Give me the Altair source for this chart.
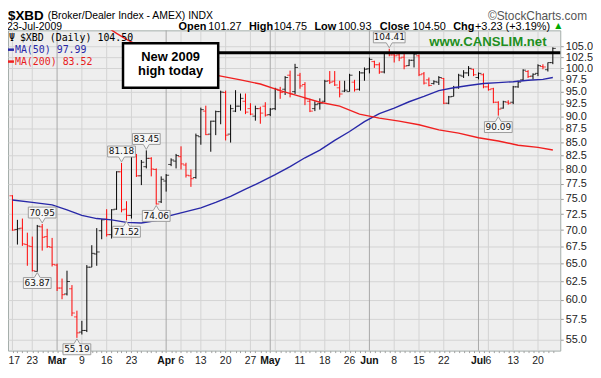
import altair as alt
import pandas as pd

# ---------------- data ----------------
day = list(range(110))  # trading days 17-Feb-2009 .. 23-Jul-2009
open_ = [75.5, 70.1, 70.3, 67.8, 67.5, 63.9, 70.5, 69.0, 67.4, 64.8,
         61.6, 60.8, 61.5, 57.8, 55.9, 56.1, 64.5, 66.4, 69.9, 71.7,
         69.3, 73.3, 79.6, 73.3, 72.3, 82.3, 78.9, 80.5, 82.0, 80.0,
         74.5, 78.0, 80.9, 81.5, 82.3, 80.8, 78.9, 78.6, 86.0, 91.0,
         86.5, 89.0, 90.9, 94.8, 86.5, 91.0, 92.0, 93.0, 91.5, 90.0,
         91.5, 92.0, 90.3, 91.5, 95.3, 95.5, 98.5, 95.0, 98.5, 96.5,
         93.0, 91.5, 92.5, 93.0, 97.3, 97.2, 95.8, 95.1, 95.0, 97.0,
         95.5, 99.0, 99.9, 101.5, 100.8, 99.2, 103.5, 103.0, 103.0, 102.5,
         100.6, 101.8, 102.8, 98.8, 97.5, 96.7, 97.0, 97.8, 92.6, 94.0,
         95.8, 98.3, 99.0, 99.8, 98.0, 98.6, 96.0, 95.6, 92.8, 91.6,
         92.8, 92.8, 96.0, 97.5, 99.3, 98.3, 98.9, 100.4, 99.7, 101.27]
high = [75.6, 71.6, 71.8, 69.6, 69.0, 70.8, 70.95, 70.2, 68.8, 65.0,
        62.9, 64.0, 62.0, 58.6, 57.3, 64.8, 67.7, 70.3, 71.7, 73.3,
        73.3, 79.7, 81.18, 74.6, 82.6, 82.8, 81.7, 83.45, 82.2, 80.2,
        78.8, 79.2, 82.0, 82.8, 84.2, 81.2, 80.0, 86.6, 91.7, 92.1,
        89.1, 91.1, 95.2, 95.2, 92.3, 95.3, 94.6, 94.6, 92.6, 92.1,
        91.9, 92.8, 91.6, 95.8, 96.0, 98.3, 99.5, 101.0, 99.0, 97.0,
        93.5, 93.0, 93.6, 97.5, 99.4, 99.4, 97.3, 97.3, 98.8, 97.5,
        99.4, 100.2, 102.4, 101.7, 101.3, 103.5, 104.41, 103.5, 103.5, 103.5,
        102.0, 103.5, 103.1, 99.2, 98.0, 97.4, 98.3, 97.9, 94.1, 96.2,
        98.8, 99.6, 100.5, 99.9, 99.1, 98.9, 96.6, 95.8, 93.0, 93.1,
        93.2, 96.2, 97.3, 99.8, 99.6, 98.9, 100.9, 100.9, 101.3, 104.75]
low = [69.9, 67.8, 67.6, 64.7, 63.9, 63.87, 66.9, 67.3, 64.6, 61.2,
       60.1, 60.6, 57.9, 55.19, 55.6, 55.9, 64.5, 64.7, 68.6, 69.0,
       68.7, 73.2, 72.8, 71.52, 71.8, 78.7, 77.3, 80.2, 78.8, 74.06,
       74.3, 76.2, 80.6, 80.2, 80.0, 78.6, 77.0, 78.4, 84.5, 86.3,
       83.2, 86.3, 88.4, 85.3, 84.9, 90.8, 91.1, 90.4, 90.2, 89.1,
       88.5, 89.9, 90.0, 91.2, 93.5, 94.3, 93.8, 94.5, 95.6, 92.2,
       90.8, 91.0, 91.3, 92.8, 96.6, 96.2, 93.8, 94.9, 95.0, 95.0,
       95.2, 97.3, 98.9, 100.1, 98.8, 98.9, 102.7, 101.3, 101.6, 99.8,
       100.5, 100.2, 98.3, 96.5, 96.1, 96.5, 96.4, 92.4, 92.4, 94.0,
       95.6, 97.9, 98.3, 98.3, 97.6, 95.7, 95.2, 92.6, 90.09, 91.5,
       92.3, 92.4, 95.8, 97.3, 97.9, 97.6, 98.3, 99.8, 99.3, 100.93]
close = [70.0, 70.2, 67.9, 67.6, 64.0, 70.6, 68.9, 67.5, 64.9, 61.6,
         60.7, 62.5, 58.3, 55.8, 56.1, 64.5, 66.5, 66.7, 71.6, 69.3,
         73.2, 79.6, 73.2, 72.3, 82.3, 78.9, 81.3, 82.0, 80.1, 74.15,
         78.3, 79.0, 81.7, 82.5, 81.0, 79.0, 78.4, 86.2, 91.3, 86.4,
         89.0, 90.9, 94.9, 86.3, 91.5, 92.0, 93.6, 90.8, 90.4, 91.5,
         90.6, 90.2, 91.4, 95.5, 94.8, 98.0, 94.5, 100.2, 96.2, 93.5,
         91.0, 92.3, 92.6, 97.2, 97.0, 96.4, 94.5, 95.3, 98.5, 95.4,
         99.0, 99.8, 102.0, 100.8, 99.2, 103.4, 103.0, 102.8, 102.3, 100.5,
         101.8, 103.2, 98.6, 96.8, 96.3, 97.1, 98.0, 92.6, 93.9, 95.9,
         98.5, 99.0, 100.0, 98.6, 98.9, 96.0, 95.4, 92.8, 91.4, 92.9,
         92.6, 96.0, 97.0, 99.6, 98.2, 98.7, 100.6, 100.3, 101.27, 104.50]
prev_close0 = 75.9

ma50_day = [0, 4, 8, 11, 14, 17, 20, 23, 26, 29, 32, 35, 38, 41, 44, 47, 50, 53, 56, 59,
            62, 65, 68, 71, 74, 77, 80, 83, 86, 89, 92, 95, 98, 101, 104, 107, 109]
ma50_val = [74.8, 74.4, 74.0, 73.2, 72.3, 71.8, 71.6, 71.2, 71.1, 71.5, 72.3, 72.9, 73.5, 74.4,
            75.4, 76.6, 77.8, 79.1, 80.5, 82.1, 83.5, 85.3, 87.0, 88.9, 90.5, 91.6, 92.9, 94.0,
            95.2, 95.8, 96.3, 96.7, 96.9, 97.1, 97.4, 97.6, 97.99]
ma200_day = [19, 21, 23, 27, 32, 37, 41, 46, 50, 54, 58, 62, 66, 70, 74, 78, 82, 86, 90, 94,
             98, 102, 106, 109]
ma200_val = [109.6, 108.0, 106.6, 104.2, 101.8, 100.0, 98.5, 97.5, 96.6, 95.2, 94.0, 92.8,
             92.0, 90.4, 89.6, 89.0, 88.3, 87.3, 86.7, 85.8, 85.2, 84.4, 84.0, 83.52]

tick_day = [0, 4, 9, 14, 19, 24, 31, 34, 38, 43, 48, 52, 58, 63, 68, 72, 77, 82, 87, 94, 96, 101, 106]
tick_text = ["17", "23", "Mar", "9", "16", "23", "Apr", "6", "13", "20", "27", "May",
             "11", "18", "26", "Jun", "8", "15", "22", "Jul", "6", "13", "20"]
month_days = [9, 31, 52, 72, 94]
extra_grid_days = [53]
y_ticks = [55.0, 57.5, 60.0, 62.5, 65.0, 67.5, 70.0, 72.5, 75.0, 77.5, 80.0,
           82.5, 85.0, 87.5, 90.0, 92.5, 95.0, 97.5, 100.0, 102.5, 105.0]

note_day = [6, 5, 13, 23, 22, 27, 29, 76, 98]
note_val = [70.95, 63.87, 55.19, 71.52, 81.18, 83.45, 74.06, 104.41, 90.09]
note_pos = ["above", "below", "below", "below", "above", "above", "below", "above", "below"]

prior_high = 103.5

# ---------------- layout ----------------
W, H = 557, 323
xs = alt.Scale(domain=[-0.9, 110.5], nice=False, zero=False)
ys = alt.Scale(type="log", domain=[53.66, 108.74], nice=False, zero=False)

X_AXIS = alt.Axis(values=day, labels=False, ticks=True, tickSize=2, tickColor="#a0a0a0",
                  domain=False, grid=False, title=None)
Y_AXIS = alt.Axis(orient="right", values=y_ticks, format=".1f", grid=True,
                  gridColor="#d3d3d3", gridWidth=1, domain=False, ticks=True,
                  tickSize=3, tickColor="#9a9a9a", labelFont="Liberation Sans",
                  labelFontSize=11, labelColor="#222222", labelPadding=2, title=None)


def X(field="day"):
    return alt.X(f"{field}:Q", scale=xs, axis=X_AXIS)


def Y(field):
    return alt.Y(f"{field}:Q", scale=ys, axis=Y_AXIS)


prev = [prev_close0] + close[:-1]
bars = pd.DataFrame({
    "day": day, "open": open_, "high": high, "low": low, "close": close,
    "col": ["#000000" if c >= p else "#ff0000" for c, p in zip(close, prev)],
})
one = pd.DataFrame({"k": [0]})

grid_all = sorted(set(tick_day + extra_grid_days))
grid_df = pd.DataFrame({"day": grid_all,
                        "kind": ["month" if d in month_days else "week" for d in grid_all]})

week_grid = alt.Chart(grid_df).transform_filter("datum.kind == 'week'").mark_rule(
    color="#d3d3d3", strokeWidth=1).encode(x=X())
month_grid = alt.Chart(grid_df).transform_filter("datum.kind == 'month'").mark_rule(
    color="#a8a8a8", strokeWidth=1).encode(x=X())

hl = alt.Chart(bars).mark_rule(strokeWidth=1).encode(
    x=X(), y=Y("low"), y2="high:Q", color=alt.Color("col:N", scale=None))
op = alt.Chart(bars).mark_tick(orient="horizontal", size=3, thickness=1, xOffset=-1.5).encode(
    x=X(), y=Y("open"), color=alt.Color("col:N", scale=None))
cl = alt.Chart(bars).mark_tick(orient="horizontal", size=3, thickness=1, xOffset=1.5).encode(
    x=X(), y=Y("close"), color=alt.Color("col:N", scale=None))

ma50 = alt.Chart(pd.DataFrame({"day": ma50_day, "v": ma50_val})).mark_line(
    color="#2828a8", strokeWidth=1.4).encode(x=X(), y=Y("v"))
ma200 = alt.Chart(pd.DataFrame({"day": ma200_day, "v": ma200_val})).mark_line(
    color="#f02020", strokeWidth=1.4, clip=True).encode(x=X(), y=Y("v"))

hi_line = alt.Chart(pd.DataFrame({"lvl": [prior_high]})).mark_rule(
    color="black", strokeWidth=3).encode(x=alt.value(212), x2=alt.value(W), y=Y("lvl"))

callout = alt.Chart(one).mark_rect(fill="white", stroke="black", strokeWidth=2.5).encode(
    x=alt.value(116), x2=alt.value(212), y=alt.value(13), y2=alt.value(58))


def txt(s, x, y, size=11, weight="normal", color="#000000", font="Liberation Sans",
        align="left"):
    return alt.Chart(one).mark_text(text=s, fontSize=size, fontWeight=weight, color=color,
                                    font=font, align=align, baseline="middle").encode(
        x=alt.value(x), y=alt.value(y))


notes = pd.DataFrame({"day": note_day, "val": note_val, "pos": note_pos})
notes["path"] = [
    ("M0,-1L-3,-6H-16V-17H16V-6H3Z" if v > 100 else "M0,-1L-3,-6H-14V-17H14V-6H3Z")
    if p == "above" else "M0,1L3,6H14V17H-14V6H-3Z"
    for v, p in zip(note_val, note_pos)]
note_box = alt.Chart(notes).mark_point(
    filled=True, size=4, fill="#f6f6f6", stroke="#9c9c9c", strokeWidth=1, opacity=1).encode(
    x=X(), y=Y("val"), shape=alt.Shape("path:N", scale=None))
note_up = alt.Chart(notes).transform_filter("datum.pos == 'above'").mark_text(
    font="DejaVu Sans", fontSize=9, dy=-11.5, baseline="middle", color="#111111").encode(
    x=X(), y=Y("val"), text=alt.Text("val:Q", format=".2f"))
note_dn = alt.Chart(notes).transform_filter("datum.pos == 'below'").mark_text(
    font="DejaVu Sans", fontSize=9, dy=11.5, baseline="middle", color="#111111").encode(
    x=X(), y=Y("val"), text=alt.Text("val:Q", format=".2f"))

XL_Y = H + 10
xl = pd.DataFrame({"day": tick_day, "t": tick_text,
                   "b": [t in ("Mar", "Apr", "May", "Jun", "Jul") for t in tick_text],
                   "first": [i == 0 for i in range(len(tick_day))]})
xlab = alt.Chart(xl).transform_filter("!datum.b && !datum.first").mark_text(
    font="Liberation Sans", fontSize=10.5, color="#222222", baseline="middle").encode(
    x=X(), y=alt.value(XL_Y), text="t:N")
xlab_first = alt.Chart(xl).transform_filter("datum.first").mark_text(
    font="Liberation Sans", fontSize=10.5, color="#222222", baseline="middle",
    align="left", dx=-4).encode(x=X(), y=alt.value(XL_Y), text="t:N")
xlab_b = alt.Chart(xl).transform_filter("datum.b").mark_text(
    font="Liberation Sans", fontSize=10.5, fontWeight="bold", color="#111111",
    baseline="middle").encode(x=X(), y=alt.value(XL_Y), text="t:N")

sw50 = alt.Chart(one).mark_rule(color="#2828a8", strokeWidth=2.5).encode(
    x=alt.value(0), x2=alt.value(6), y=alt.value(19.5))
sw200 = alt.Chart(one).mark_rule(color="#f02020", strokeWidth=2.5).encode(
    x=alt.value(0), x2=alt.value(6), y=alt.value(31.5))

header = [
    txt("$XBD", 0, -14.5, size=13.5, weight="bold"),
    txt("(Broker/Dealer Index - AMEX) INDX", 40, -14.5, size=10.5),
    txt("\u00a9StockCharts.com", 584, -14.5, size=12, color="#555555", align="right"),
    txt("23-Jul-2009", -1, -3.5, size=10.5),
    txt("Open", 172, -3.5, weight="bold"), txt("101.27", 202, -3.5),
    txt("High", 243, -3.5, weight="bold"), txt("104.75", 268, -3.5),
    txt("Low", 309, -3.5, weight="bold"), txt("100.93", 333, -3.5),
    txt("Close", 375, -3.5, weight="bold"), txt("104.50", 408, -3.5),
    txt("Chg", 449, -3.5, weight="bold"), txt("+3.23 (+3.19%)", 471, -3.5),
    txt("\u25b2", 552, -4.5, size=8, color="#00aa00", font="DejaVu Sans"),
]
legend = [
    txt("\u03a8", 1, 7.5, size=10, font="DejaVu Sans Mono"),
    txt("$XBD (Daily) 104.50", 12, 7.5, size=10, font="DejaVu Sans Mono"),
    sw50, txt("MA(50) 97.99", 7, 19.5, size=10, color="#2828a8", font="DejaVu Sans Mono"),
    sw200, txt("MA(200) 83.52", 7, 31.5, size=10, color="#e81c1c", font="DejaVu Sans Mono"),
    txt("www.CANSLIM.net", 484, 12, size=13.3, weight="bold", color="#1f8f22", align="center"),
]
box_text = [
    txt("New 2009", 164, 26.5, size=13, weight="bold", align="center"),
    txt("high today", 164, 41.5, size=13, weight="bold", align="center"),
]

chart = alt.layer(
    week_grid, month_grid, hl, op, cl, ma50, ma200, hi_line, callout,
    *box_text, note_box, note_up, note_dn, xlab, xlab_first, xlab_b, *legend, *header,
).properties(
    width=W, height=H,
    padding={"left": 0, "top": 21, "right": 33, "bottom": 17},
    autosize=alt.AutoSizeParams(type="none"),
    background="white",
).configure_view(fill="#eeeeee", stroke="#a3ada9", strokeWidth=1)

chart.save("out.html", embed_options={"renderer": "svg", "actions": False})
